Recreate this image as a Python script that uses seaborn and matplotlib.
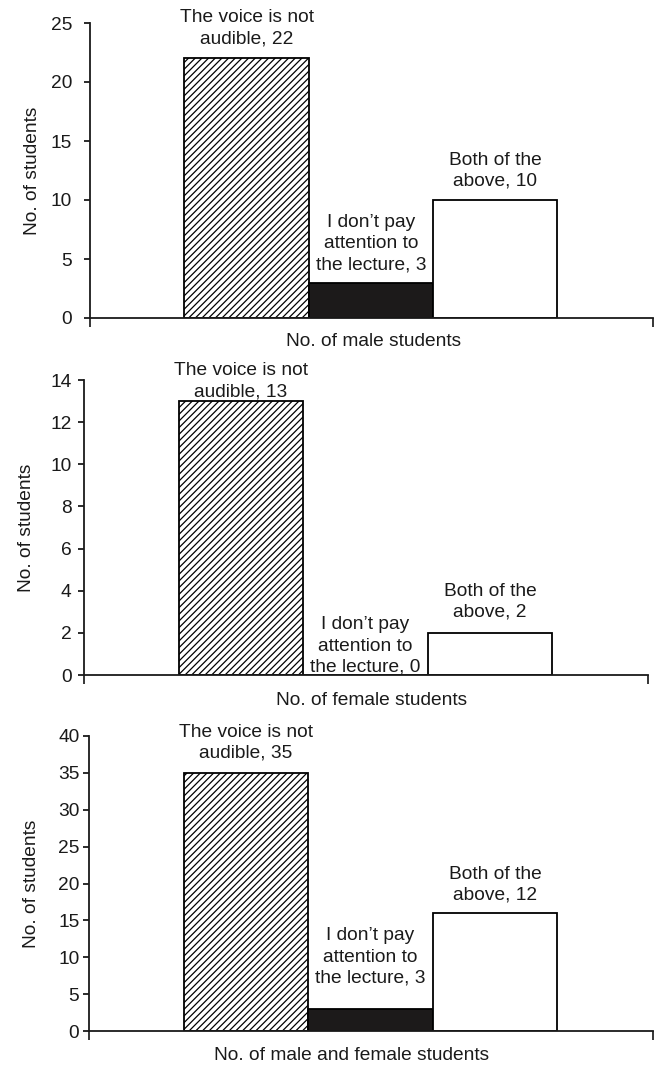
import matplotlib
matplotlib.use("Agg")
import matplotlib.pyplot as plt
import seaborn as sns

# categorias (respostas) e numero de alunos por grupo
categories = ["The voice is not\naudible", "I don\u2019t pay\nattention to\nthe lecture", "Both of the\nabove"]
male = [22, 3, 10]
female = [13, 0, 2]
male_female = [35, 3, 16]
male_female_labels = [35, 3, 12]   # numeros escritos nos rotulos do grafico

panels = [
    dict(values=male, labels=male, xlabel="No. of male students", ymax=25, step=5),
    dict(values=female, labels=female, xlabel="No. of female students", ymax=14, step=2),
    dict(values=male_female, labels=male_female_labels, xlabel="No. of male and female students", ymax=40, step=5),
]

# posicoes dos eixos em pixels (esq, topo, dir, base)
boxes = [(90, 23, 653, 318), (84, 380, 648, 675), (89, 736, 653, 1031)]
tick_pads = [9, 5, 3]
xlabel_pos = [(0.503, -0.051), (0.509, -0.058), (0.466, -0.054)]
label_offsets = [[11, 9, 10], [1, -1, 12], [11, 22, 9]]

sns.set_theme(style="white")
plt.rcParams['font.family'] = ['Liberation Sans', 'DejaVu Sans']
plt.rcParams['hatch.linewidth'] = 0.9

W, H = 658, 1066
fig = plt.figure(figsize=(W / 100, H / 100), dpi=100)
fs = 13.8
lw = 1.3

for p, box, pad, xlp, offs in zip(panels, boxes, tick_pads, xlabel_pos, label_offsets):
    l, t, r, b = box
    ax = fig.add_axes([l / W, (H - b) / H, (r - l) / W, (b - t) / H])
    sns.barplot(x=categories, y=p['values'], hue=categories,
                palette=['white', '#1c1a1a', 'white'], width=1,
                edgecolor='black', linewidth=lw, errorbar=None,
                legend=False, ax=ax)
    ax.patches[0].set_hatch('/////')

    for i, (v, lab) in enumerate(zip(p['values'], p['labels'])):
        ax.annotate(f"{categories[i]}, {lab}", xy=(i, v), xytext=(0, offs[i]),
                    textcoords='offset pixels', ha='center', va='bottom',
                    multialignment='center', linespacing=1.33, fontsize=fs,
                    color='#1a1a1a', annotation_clip=False)

    ax.set_xlim(-1.26, 3.27)
    ax.set_ylim(0, p['ymax'])
    ax.set_yticks(range(0, p['ymax'] + 1, p['step']))
    ax.set_xticks([-1.26, 3.27])
    ax.set_xticklabels([])
    ax.tick_params(axis='y', direction='out', length=4, width=lw, pad=pad,
                   labelsize=fs, colors='#1a1a1a', left=True)
    ax.tick_params(axis='x', direction='out', length=6.5, width=lw, bottom=True)

    for side in ['top', 'right']:
        ax.spines[side].set_visible(False)
    for side in ['left', 'bottom']:
        ax.spines[side].set_color('#1a1a1a')
        ax.spines[side].set_linewidth(lw)

    ax.set_ylabel("No. of students", fontsize=fs, color='#1a1a1a')
    ax.yaxis.set_label_coords(-0.087, 0.5)
    ax.set_xlabel(p['xlabel'], fontsize=fs, color='#1a1a1a')
    ax.xaxis.set_label_coords(*xlp)

fig.savefig("out.png", dpi=100)
